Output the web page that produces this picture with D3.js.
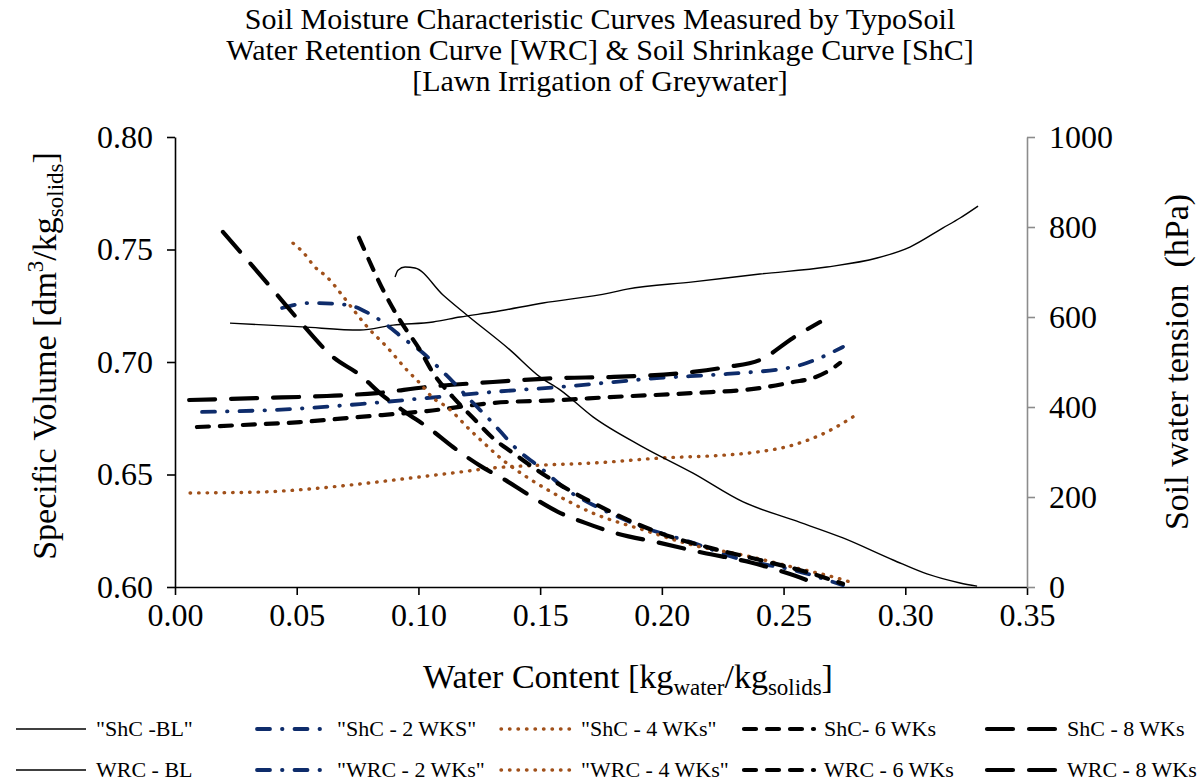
<!DOCTYPE html>
<html>
<head>
<meta charset="utf-8">
<script src="https://cdn.jsdelivr.net/npm/d3@7"></script>
<style>
  body { margin: 0; background: #fff; }
  svg text { font-family: "Liberation Serif", "Times New Roman", serif; fill: #000; }
</style>
</head>
<body>
<svg id="chart" width="1200" height="784"></svg>
<script>
// water content [kg/kg] vs specific volume (ShC) or tension in hPa (WRC)
const shcBL = [[0.0226,0.7173],[0.0522,0.7156],[0.0760,0.7142],[0.0896,0.7164],[0.1060,0.7178],[0.1171,0.7200],[0.1306,0.7222],[0.1512,0.7262],[0.1787,0.7307],[0.1857,0.7324],[0.2128,0.7356],[0.2403,0.7391],[0.2678,0.7422],[0.2884,0.7462],[0.3019,0.7511],[0.3155,0.7596],[0.3225,0.7640],[0.3299,0.7693]];
const shc2 = [[0.0111,0.6778],[0.0485,0.6791],[0.0760,0.6813],[0.1035,0.6840],[0.1306,0.6867],[0.1582,0.6889],[0.1992,0.6929],[0.2268,0.6947],[0.2539,0.6978],[0.2637,0.7013],[0.2744,0.7067]];
const shc4 = [[0.0062,0.6418],[0.0349,0.6422],[0.0555,0.6436],[0.0760,0.6458],[0.0965,0.6484],[0.1171,0.6511],[0.1306,0.6529],[0.1512,0.6542],[0.1717,0.6551],[0.1992,0.6573],[0.2268,0.6587],[0.2362,0.6596],[0.2539,0.6631],[0.2678,0.6689],[0.2785,0.6756]];
const shc6 = [[0.0090,0.6711],[0.0279,0.6720],[0.0514,0.6733],[0.0760,0.6756],[0.1035,0.6782],[0.1306,0.6818],[0.1582,0.6831],[0.1787,0.6844],[0.2128,0.6862],[0.2403,0.6884],[0.2539,0.6911],[0.2621,0.6929],[0.2703,0.6973],[0.2732,0.6996]];
const shc8 = [[0.0058,0.6831],[0.0349,0.6840],[0.0624,0.6849],[0.0830,0.6862],[0.1035,0.6889],[0.1306,0.6911],[0.1582,0.6929],[0.1787,0.6933],[0.2128,0.6956],[0.2268,0.6978],[0.2403,0.7009],[0.2539,0.7107],[0.2650,0.7178]];

const wrcBL = [[0.0904,689],[0.0916,704],[0.0945,711],[0.0986,709],[0.1101,649],[0.1200,604],[0.1376,527],[0.1499,467],[0.1582,438],[0.1717,378],[0.1923,311],[0.2128,253],[0.2334,189],[0.2539,149],[0.2744,109],[0.2950,60],[0.3089,29],[0.3225,9],[0.3295,2]];
const wrc2 = [[0.0440,620],[0.0555,631],[0.0707,627],[0.0793,609],[0.0871,582],[0.0937,553],[0.1019,520],[0.1080,489],[0.1142,456],[0.1212,416],[0.1294,371],[0.1417,300],[0.1487,271],[0.1623,211],[0.1734,178],[0.1923,133],[0.2128,98],[0.2333,60],[0.2539,38],[0.2744,4]];
const wrc4 = [[0.0485,764],[0.0526,744],[0.0575,711],[0.0624,689],[0.0686,649],[0.0727,620],[0.0793,576],[0.0871,533],[0.0953,482],[0.1006,453],[0.1060,420],[0.1117,400],[0.1212,349],[0.1265,322],[0.1347,282],[0.1446,244],[0.1553,209],[0.1717,164],[0.1923,127],[0.2128,93],[0.2333,71],[0.2539,44],[0.2744,16],[0.2785,9]];
const wrc6 = [[0.0756,776],[0.0883,631],[0.0924,593],[0.1006,527],[0.1060,476],[0.1142,422],[0.1224,376],[0.1306,331],[0.1388,298],[0.1487,260],[0.1582,227],[0.1717,187],[0.1992,120],[0.2198,87],[0.2403,60],[0.2609,31],[0.2744,7]];
const wrc8 = [[0.0197,789],[0.0279,738],[0.0403,660],[0.0526,582],[0.0649,511],[0.0760,471],[0.0850,427],[0.0945,389],[0.1048,351],[0.1142,311],[0.1261,267],[0.1356,238],[0.1467,200],[0.1573,167],[0.1688,142],[0.1808,120],[0.1992,98],[0.2169,76],[0.2354,56],[0.2473,38],[0.2592,16],[0.2650,2]];

const xTicks = [0, 0.05, 0.10, 0.15, 0.20, 0.25, 0.30, 0.35];
const leftTicks = [0.60, 0.65, 0.70, 0.75, 0.80];
const rightTicks = [0, 200, 400, 600, 800, 1000];

const shcLabels = ['"ShC -BL"', '"ShC - 2 WKS"', '"ShC - 4 WKs"', 'ShC- 6 WKs', 'ShC - 8 WKs'];
const wrcLabels = ['WRC - BL', '"WRC - 2 WKs"', '"WRC - 4 WKs"', 'WRC - 6 WKs', 'WRC - 8 WKs'];

// line looks, one per treatment
var styles = [
  {color: "#000", width: 1.4, dash: null, cap: "butt"},
  {color: "#0e2c6b", width: 3.8, dash: "13,12,0.5,12", cap: "round"},
  {color: "#a0501a", width: 3.4, dash: "0.5,8", cap: "round"},
  {color: "#000", width: 4.2, dash: "12,11", cap: "round"},
  {color: "#000", width: 4.2, dash: "26,16", cap: "round"}
];

var svg = d3.select("#chart");
var plotL = 175, plotR = 1027, plotT = 137, plotB = 587;

var x = d3.scaleLinear().domain([0, 0.35]).range([plotL, plotR]);
var yL = d3.scaleLinear().domain([0.6, 0.8]).range([plotB, plotT]);
var yR = d3.scaleLinear().domain([0, 1000]).range([plotB, plotT]);

// title
var title = ["Soil Moisture Characteristic Curves Measured by TypoSoil",
             "Water Retention Curve [WRC] & Soil Shrinkage Curve [ShC]",
             "[Lawn Irrigation of Greywater]"];
svg.append("g").selectAll("text").data(title).enter().append("text")
  .attr("x", 600).attr("y", (d, i) => 29 + i * 31)
  .attr("text-anchor", "middle").style("font-size", "30px")
  .text(d => d);

// axes
var gx = svg.append("g").attr("transform", "translate(0," + plotB + ")")
  .call(d3.axisBottom(x).tickValues(xTicks).tickFormat(d3.format(".2f")).tickSize(8).tickSizeOuter(0));
var gl = svg.append("g").attr("transform", "translate(" + plotL + ",0)")
  .call(d3.axisLeft(yL).tickValues(leftTicks).tickFormat(d3.format(".2f")).tickSize(8).tickSizeOuter(0));
var gr = svg.append("g").attr("transform", "translate(" + plotR + ",0)")
  .call(d3.axisRight(yR).tickValues(rightTicks).tickFormat(d3.format("d")).tickSize(8).tickSizeOuter(0));

[gx, gl].forEach(g => {
  g.select(".domain").attr("stroke", "#000").attr("stroke-width", 1.6);
  g.selectAll(".tick line").attr("stroke", "#000").attr("stroke-width", 1.6);
});
gr.select(".domain").attr("stroke", "#8c8c8c").attr("stroke-width", 1.6);
gr.selectAll(".tick line").attr("stroke", "#8c8c8c").attr("stroke-width", 1.6);
[gx, gl, gr].forEach(g => g.selectAll(".tick text")
  .attr("fill", "#000").style("font-size", "32px").style("font-family", '"Liberation Serif", serif'));
gx.selectAll(".tick text").attr("y", 16);
gl.selectAll(".tick text").attr("x", -22);
gr.selectAll(".tick text").attr("x", 22);

// axis titles
var xt = svg.append("text").attr("x", 628).attr("y", 688).attr("text-anchor", "middle").style("font-size", "34px");
xt.append("tspan").text("Water Content [kg");
xt.append("tspan").attr("dy", 7).style("font-size", "23px").text("water");
xt.append("tspan").attr("dy", -7).text("/kg");
xt.append("tspan").attr("dy", 7).style("font-size", "23px").text("solids");
xt.append("tspan").attr("dy", -7).text("]");

var lt = svg.append("text").attr("transform", "translate(56,356) rotate(-90)").attr("text-anchor", "middle").style("font-size", "34px");
lt.append("tspan").text("Specific Volume [dm");
lt.append("tspan").attr("dy", -13).style("font-size", "23px").text("3");
lt.append("tspan").attr("dy", 13).text("/kg");
lt.append("tspan").attr("dy", 7).style("font-size", "23px").text("solids");
lt.append("tspan").attr("dy", -7).text("]");

svg.append("text").attr("transform", "translate(1188,362) rotate(-90)").attr("text-anchor", "middle")
  .style("font-size", "34px").style("white-space", "pre").text("Soil water tension  (hPa)");

// curves
var lineL = d3.line().x(d => x(d[0])).y(d => yL(d[1])).curve(d3.curveMonotoneX);
var lineR = d3.line().x(d => x(d[0])).y(d => yR(d[1])).curve(d3.curveMonotoneX);

function drawSeries(g, data, gen, st) {
  g.append("path").datum(data)
    .attr("d", gen)
    .attr("fill", "none")
    .attr("stroke", st.color)
    .attr("stroke-width", st.width)
    .attr("stroke-linecap", st.cap)
    .attr("stroke-dasharray", st.dash);
}
var plot = svg.append("g");
[shcBL, shc2, shc4, shc6, shc8].forEach((d, i) => drawSeries(plot, d, lineL, styles[i]));
[wrcBL, wrc2, wrc4, wrc6, wrc8].forEach((d, i) => drawSeries(plot, d, lineR, styles[i]));

// legend, two rows
var colX = [16, 257, 501, 744, 987];
var rowY = [729, 770];
var leg = svg.append("g");
[shcLabels, wrcLabels].forEach((labels, r) => {
  labels.forEach((lab, i) => {
    var st = styles[i];
    leg.append("line")
      .attr("x1", colX[i]).attr("x2", colX[i] + 70)
      .attr("y1", rowY[r]).attr("y2", rowY[r])
      .attr("stroke", st.color).attr("stroke-width", st.width)
      .attr("stroke-linecap", st.cap).attr("stroke-dasharray", st.dash);
    leg.append("text")
      .attr("x", colX[i] + 80).attr("y", rowY[r] + 7)
      .style("font-size", "22px").style("white-space", "pre")
      .text(lab);
  });
});
</script>
</body>
</html>
